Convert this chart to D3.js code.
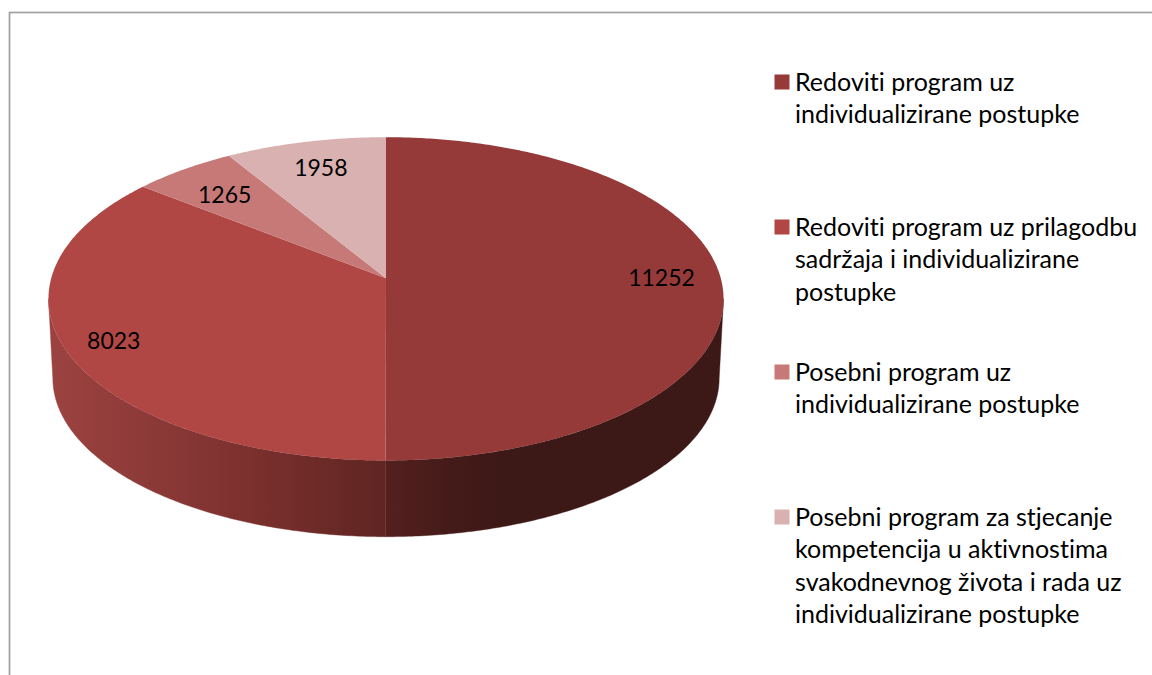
<!DOCTYPE html>
<html lang="en">
<head>
<meta charset="utf-8">
<title>Pie</title>
<script src="https://d3js.org/d3.v7.min.js"></script>
<style>
	html, body { margin: 0; padding: 0; background: #fff; overflow: hidden; }
	text { font-family: Lato, "Open Sans", sans-serif; fill: #000; font-variant-ligatures: none; }
</style>
</head>
<body>
<script type="text/javascript">

	var values = [11252, 8023, 1265, 1958];
	var colors = ["#953a39", "#b04745", "#c67977", "#d9b1b1"];
	var legendLines = [
		["Redoviti program uz", "individualizirane postupke"],
		["Redoviti program uz prilagodbu", "sadržaja i individualizirane", "postupke"],
		["Posebni program uz", "individualizirane postupke"],
		["Posebni program za stjecanje", "kompetencija u aktivnostima", "svakodnevnog života i rada uz", "individualizirane postupke"]
	];
	//how far out along the slice each number sits, 1 = rim
	var labelRadius = [0.823, 0.86, 0.76, 0.79];
	//small turn off the slice middle, radians
	var labelTurn = [0, 0, -0.023, 0];

	//side wall shading, per slice, x then colour
	var sideStops = [
		[[386, "#54201e"], [450, "#441b19"], [510, "#3c1816"], [723, "#3c1816"]],
		[[50, "#9c4341"], [200, "#843533"], [300, "#712c29"], [386, "#5f2522"]]
	];

	var width = 1152,
		height = 675;

	//perspective pie: same circle, top rim and bottom rim
	var cx = 386,
		persp = 0.127,
		topRim = {y: 278.3, rx: 334.8, ry: 159},
		botRim = {y: 358, rx: 330.5, ry: 156};

	function project(rim, angle, f) {
		var w = 1 + persp * f * Math.cos(angle);
		return [cx + rim.rx * f * Math.sin(angle) / w, rim.y - rim.ry * f * Math.cos(angle) / w];
	}

	function arcPoints(rim, a0, a1) {
		var n = Math.max(2, Math.ceil(Math.abs(a1 - a0) / 0.01));
		return d3.range(n + 1).map(function(i) {
			return project(rim, a0 + (a1 - a0) * i / n, 1);
		});
	}

	var svg = d3.select("body").append("svg")
		.attr("width", width)
		.attr("height", height)
		.style("display", "block");

	svg.append("rect")
		.attr("x", 9.5)
		.attr("y", 12.5)
		.attr("width", 1300)
		.attr("height", 800)
		.attr("fill", "#fff")
		.attr("stroke", "#a0a0a0")
		.attr("stroke-width", 1.7);

	var slices = d3.pie().sort(null)(values);
	var line = d3.line();
	var defs = svg.append("defs");

	//side walls first, the tops go over them
	var horizon = Math.acos(-persp);
	slices.forEach(function(s, i) {
		if (!sideStops[i]) return;
		var a0 = Math.max(s.startAngle, horizon),
			a1 = Math.min(s.endAngle, 2 * Math.PI - horizon);
		if (a1 <= a0) return;

		var stops = sideStops[i];
		var x0 = stops[0][0],
			x1 = stops[stops.length - 1][0];
		var grad = defs.append("linearGradient")
			.attr("id", "side" + i)
			.attr("gradientUnits", "userSpaceOnUse")
			.attr("x1", x0).attr("x2", x1)
			.attr("y1", 0).attr("y2", 0);
		stops.forEach(function(d) {
			grad.append("stop")
				.attr("offset", (d[0] - x0) / (x1 - x0))
				.attr("stop-color", d[1]);
		});

		var pts = arcPoints(topRim, a0, a1).concat(arcPoints(botRim, a1, a0));
		svg.append("path")
			.attr("d", line(pts) + "Z")
			.attr("fill", "url(#side" + i + ")")
			.attr("stroke", "url(#side" + i + ")")
			.attr("stroke-width", 0.4);
	});

	slices.forEach(function(s, i) {
		var pts = [project(topRim, 0, 0)].concat(arcPoints(topRim, s.startAngle, s.endAngle));
		svg.append("path")
			.attr("d", line(pts) + "Z")
			.attr("fill", colors[i]);
	});

	slices.forEach(function(s, i) {
		var mid = (s.startAngle + s.endAngle) / 2 + labelTurn[i];
		var p = project(topRim, mid, labelRadius[i]);
		svg.append("text")
			.attr("x", p[0])
			.attr("y", p[1] + 8)
			.attr("text-anchor", "middle")
			.attr("font-size", 23)
			.text(values[i]);
	});

	//legend
	var legendY = d3.scaleLinear().domain([0, 3]).range([74.5, 509.5]);
	legendLines.forEach(function(lines, i) {
		svg.append("rect")
			.attr("x", 774.5)
			.attr("y", legendY(i))
			.attr("width", 15)
			.attr("height", 15)
			.attr("fill", colors[i]);
		lines.forEach(function(t, j) {
			svg.append("text")
				.attr("x", 795)
				.attr("y", legendY(i) + 16 + j * 32.6)
				.attr("font-size", 25)
				.text(t);
		});
	});

</script>
</body>
</html>
